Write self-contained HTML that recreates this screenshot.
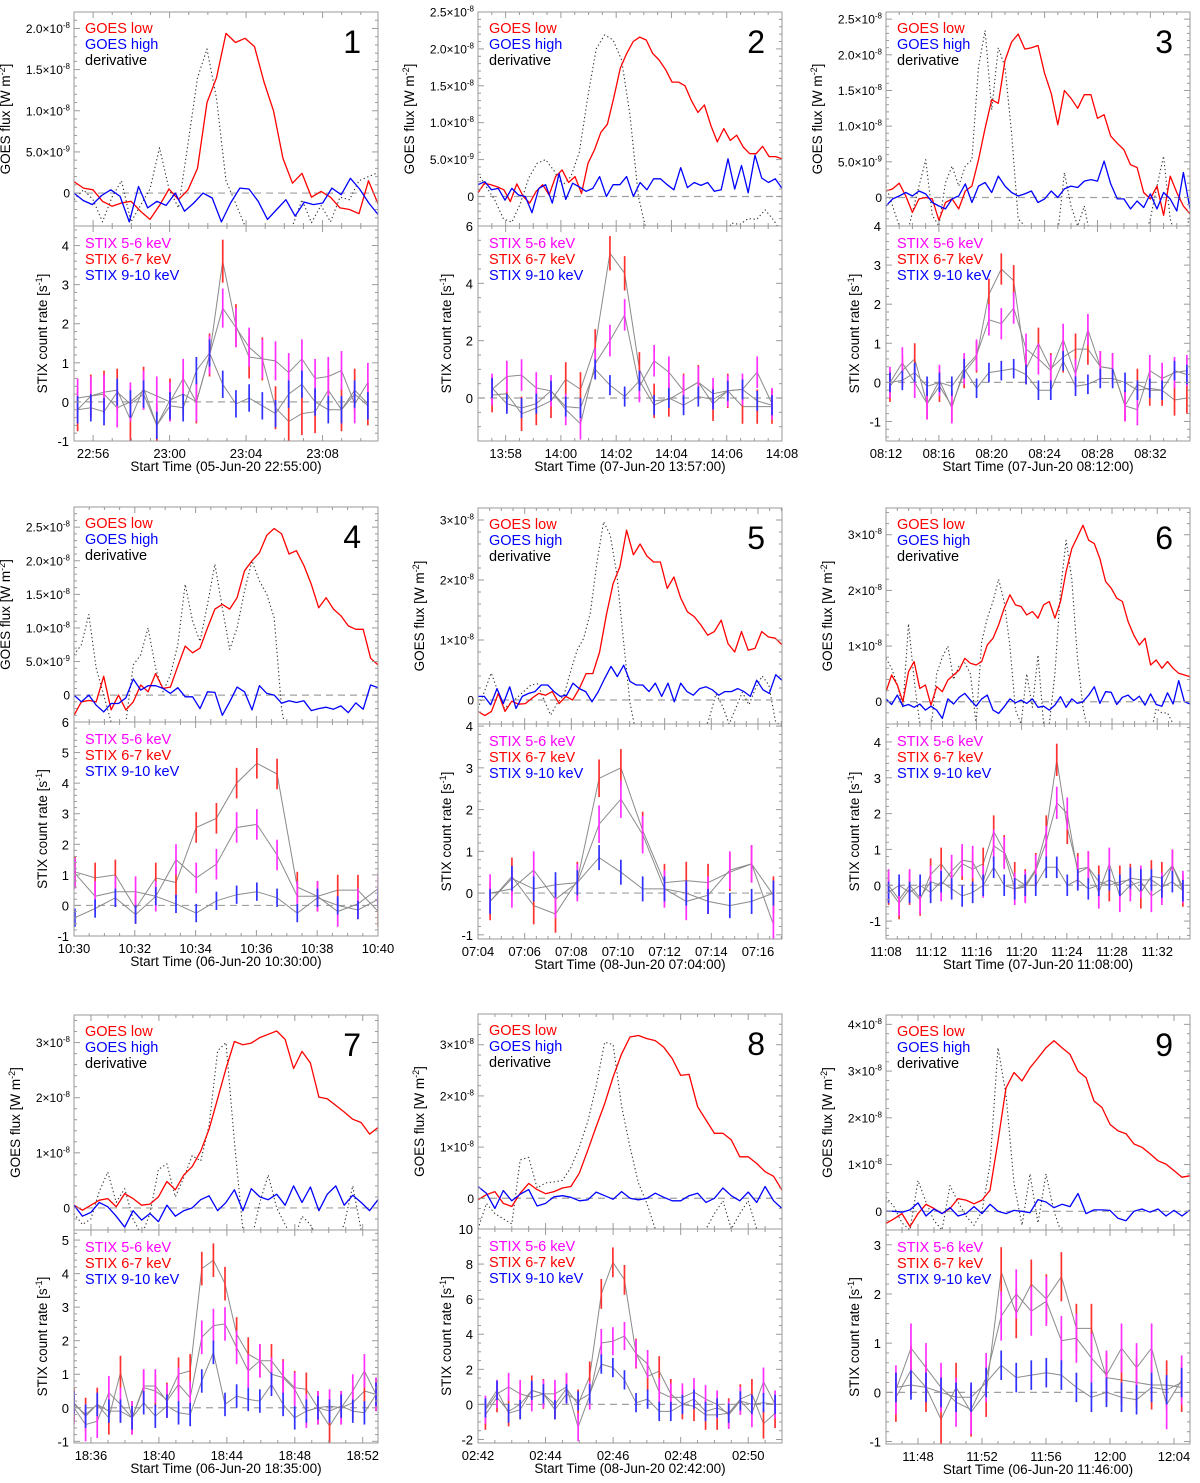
<!DOCTYPE html>
<html><head><meta charset="utf-8"><title>GOES and STIX flare light curves</title>
<style>
html,body{margin:0;padding:0;background:#fff;}
svg{display:block;font-family:"Liberation Sans",Arial,sans-serif;}
</style></head>
<body>
<svg id="fig" xmlns="http://www.w3.org/2000/svg" width="1200" height="1483" viewBox="0 0 1200 1483"></svg>
<script>
// ---- data (GOES in units of 1e-9 W m^-2, sampled uniformly across each panel's time span; STIX in counts/s) ----
const p1Low=[1.4,0.6,0.4,-1.0,-1.6,-1.2,-1.0,-2.2,-3.2,-1.5,0.5,-0.8,0.4,3.0,11,14,19.4,18.3,18.8,17.8,13.5,10,4.2,1.2,2.4,-0.5,0.2,-0.5,-1.8,-2.0,-2.5,1.5,-1.3];
const p1High=[0,-0.9,-1.4,-0.3,0.4,-0.4,-3.5,0.8,-1.8,-1.0,-1.5,0,-2.2,-1.2,0,-0.6,-3.5,-1.2,0.6,0.5,-1.0,-3.2,-2.0,-0.8,-2.8,-1.1,-1.4,-1.2,0.6,-0.2,1.8,0.5,-1.2,-2.6];
const p1Deriv=[-0.8,0.4,-0.8,-3.5,-0.5,1.5,-3.5,-1.5,0.5,5.5,0.5,-1.8,6,14,17.5,11.5,1.5,-1.2,-4,-7,-8,-8,-8,-4,-0.8,-3.6,-1.5,-3.5,-0.5,-0.8,1.5,2.0,2.5];
const p1S56=[0.1,0.15,0.2,-0.15,0.0,0.3,0.15,0.0,0.6,0.0,1.2,2.4,1.9,1.4,1.1,1.05,0.75,1.1,0.6,0.65,0.8,-0.05,0.5];
const p1S67=[-0.2,0.15,0.25,0.3,-0.45,0.35,-0.6,0.05,0.2,0.0,1.2,3.6,1.95,1.15,1.1,-0.15,-0.5,-0.3,-0.25,0.3,-0.2,0.3,-0.05];
const p1S910=[-0.2,-0.15,-0.25,0.25,-0.05,0.2,-0.6,-0.1,-0.15,0.8,1.25,0.45,-0.05,0.1,-0.1,-0.3,0.2,0.45,0.0,-0.2,-0.2,0.2,-0.1];
const p1StixTime=[0.19,0.69]; const p1Err=[0.5,0.55,0.35];

const p2Low=[0.5,1.8,1.6,1.3,0.9,-0.7,1.7,0,-0.9,0.7,1.6,0.2,2.7,3.6,1.9,2.7,0.4,4.5,6.3,8.7,9.8,13.4,17.4,19.4,21,21.6,21.2,19.4,18.5,17.2,15.5,15.5,15,13,11.4,12.4,9.6,7.4,9.2,7.6,8.3,6.7,5.8,5.8,6.8,5.4,5.4,5.1];
const p2High=[1.6,2,0.9,1.1,-0.5,1.1,0.2,0,-2.2,1.1,1.6,-0.9,3.1,-0.4,1.8,1.3,0.7,1.1,2.7,0,1.6,1.6,2.7,0,1.9,0.9,2.4,2.4,1.6,0.9,3.9,1.2,1.9,1.5,1.9,0.7,0.9,5.1,1,4.2,0.5,5.6,2.5,1.9,2.4,1.1];
const p2Deriv=[3.1,1.3,-0.5,-3,-3.5,-1,2.5,4.5,5,3.5,1.5,2.7,6,13.5,20,21.9,21.2,18.5,11,0,-5,-7,-7,-7,-7,-7,-7,-7,-7,-7,-3.6,-3.8,-3.0,-3.1,-1.8,-3.2,-5];
const p2S56=[0.3,0.75,0.8,0.35,0.25,-0.4,-0.9,1.2,2.0,2.9,0.4,1.3,0.9,0.25,0.55,0.15,0.25,0.3,0.9,-0.2];
const p2S67=[0.1,0.15,-0.55,-0.35,-0.1,0.65,0.3,1.8,5.05,4.35,1.0,-0.1,-0.05,0.25,0.55,-0.2,0.25,-0.3,-0.3,-0.3];
const p2S910=[0.35,-0.2,-0.35,-0.2,0.25,-0.3,-0.35,1.0,0.45,0.05,0.6,-0.25,0.0,-0.25,0.05,-0.05,0.25,0.3,-0.1,-0.25];
const p2StixTime=[0.51,0.533]; const p2Err=[0.55,0.6,0.35];

const p3Low=[0.9,1.2,2,0.2,-2.1,-0.2,0,-0.2,-3.2,-0.7,-0.2,-1.6,0.9,1.6,5.3,9.7,13.7,13.2,19.2,21.8,22.9,20.8,21,21.3,17.4,14.6,10.2,15,13.9,12.5,14.4,14.4,11.1,11.6,8.6,7.6,6.7,4.6,4.2,0.7,-0.2,1.6,-2.5,3,0.7,-1.2,-2.3];
const p3High=[-1.2,-0.2,0.2,0.7,0.2,0.9,0.5,-0.7,-1.2,-1.6,-0.2,0.2,1.9,-0.7,1.6,2.1,0.7,3,1.6,0.7,0.2,0.5,0.9,-0.7,-0.2,0.9,0,1.2,1.6,1.4,2.3,2.5,2.3,5.1,1.9,-0.2,-0.2,-1.6,-0.5,-1.4,0.5,-1.6,0.7,-0.2,-1.9,3.5,-1.6];
const p3Deriv=[1.6,-1.2,-4,-6,-2.1,1.6,5.3,-2.5,-4,2.1,4.4,1.6,4.4,5.3,18.3,23.4,12.3,21,18.3,9,-3,-4,-6,-6,-6,-6,-5,3.5,-1.2,-4,-1.2,-6,-6,-6,-6,-6,-6,-6,-6,-6,-3,1.6,5.8,-3,-6,-6,-2.5];
const p3S56=[0.0,0.5,0.0,-0.55,0.05,-0.65,0.35,0.7,1.6,1.5,1.9,0.85,0.6,0.3,1.1,0.2,1.35,0.4,0.35,-0.6,-0.7,0.3,0.1,0.25,0.3];
const p3S67=[-0.1,0.3,0.6,-0.55,-0.1,-0.6,0.25,0.65,2.25,2.9,2.6,0.35,1.0,0.35,0.65,0.85,0.85,0.4,0.35,-0.6,-0.05,-0.2,-0.2,-0.45,-0.4];
const p3S910=[0.0,0.05,0.25,-0.1,0.0,-0.1,0.35,-0.15,0.25,0.3,0.35,0.2,-0.2,-0.2,0.55,-0.1,-0.05,0.1,0.1,0.0,-0.2,-0.15,-0.2,0.3,0.2];
const p3StixTime=[0.3,0.936]; const p3Err=[0.4,0.4,0.25];

const p4Low=[-3,-1,-0.8,-1,2.8,-2.2,0,-2.2,-1,1.5,0.5,3.2,1,1.2,4.3,7.3,6.3,7,10,12.8,13.5,12.8,14.5,18.5,20,21.2,23.8,24.8,24,21,21.5,19.3,16.5,13,14.5,12.8,11.8,10.3,9.8,9.8,5.5,4.5];
const p4High=[0,-1,0,-1.5,-2.5,-1.25,-1.25,-0.4,2.4,0.75,1.4,1.4,1,0.25,1.1,-0.25,-0.25,-2,0.5,0.4,-3,-1,1.2,0.5,-2.2,1.4,0.25,0,-1.2,-0.85,-1.1,-0.85,-2.3,-2,-1.8,-2.1,-1.6,-2.6,-1.15,-2.1,1.5,1.1];
const p4Deriv=[6,7.5,12,4,0,-4,-6,-4,4.5,6,10,4,0.5,3,7.5,16.5,11,8,13.5,19.5,13,6.8,10,15.5,20,17,15,11.5,-2,-8,-8,-8,-8,-8,-8,-8,-8,-8,-8,-8,-8,-8];
const p4S56=[1.05,0.3,0.45,0.45,0.3,1.5,0.9,1.35,2.55,2.65,1.65,0.3,0.3,-0.2,0.05,0.55];
const p4S67=[1.1,0.9,1.0,-0.1,0.9,0.75,2.55,2.85,4.0,4.65,4.3,0.6,0.3,0.5,0.5,-0.2];
const p4S910=[-0.4,-0.1,0.25,-0.3,0.3,0.05,-0.25,0.15,0.35,0.45,0.25,-0.25,0.25,0.0,-0.15,0.2];
const p4StixTime=[0.03,0.665]; const p4Err=[0.5,0.5,0.3];

const p5Low=[-1.9,-2.6,-1.9,1.1,-1.9,-0.2,-0.7,-0.6,0.3,1.1,0.8,1.4,-0.6,0.6,0,1.9,4.4,4.4,8,14.2,19.4,22.2,28.3,24.2,26,24,23,23,18.6,20.5,17,14.7,13.9,12.5,10.8,11.4,13.3,9.4,8,11.4,8.3,8.6,11.4,10.5,10.3,9.2];
const p5High=[0.6,0.6,-0.8,1.9,-0.6,2.2,-1.4,0.6,1.1,1.4,2.5,2.5,1.4,0.6,0.8,2.8,1.9,1.4,-0.3,1.4,3.6,5.6,3.9,5.8,3.1,2.5,2.5,1.4,2.8,0.6,2.8,-0.3,2.8,1.4,0.8,1.9,2.2,1.7,0.8,1.4,1.4,1.9,1.4,0.6,3.3,1.7,1.1,4.2,3.3];
const p5Deriv=[-1.4,1.5,4.5,1.5,-1.4,-0.5,0.5,1.5,2.5,2.7,0,-2.5,-0.5,0.8,4.7,8.3,10.3,14.5,23,29.7,27.5,21,10,-0.5,-6,-6,-6,-6,-6,-6,-6,-6,-6,-6,-6,-3,1,-1,-4,-1.4,1.3,-0.8,2,4,2.5,-3.5,-4.5];
const p5S56=[0.0,0.1,0.55,-0.15,0.25,1.65,2.25,1.4,0.1,-0.2,-0.05,0.55,0.7,-0.75];
const p5S67=[-0.2,0.4,-0.3,-0.5,0.3,2.75,3.0,1.5,0.25,0.3,0.25,0.5,0.7,-0.05];
const p5S910=[-0.2,0.35,0.1,0.2,0.25,0.85,0.5,0.1,0.1,0.0,-0.2,-0.3,-0.2,0.0];
const p5StixTime=[0.52,0.934]; const p5Err=[0.45,0.45,0.3];

const p6Low=[1.8,4.8,3.0,0,5.4,7.2,2.4,3.0,-0.6,2.7,1.8,3.9,4.8,5.7,7.8,6.9,6.6,7.2,10.2,11.4,13.8,16.8,19.2,17.4,17.1,15.6,16.2,15,17.4,18,15,18,23.4,27.5,29.6,31.7,29,28.4,25.7,21.6,20.4,18.6,18,14.4,12,10.2,11.4,6.6,7.5,6,7.2,6,5.1,4.8,4.5];
const p6High=[0.5,-0.5,1.2,-0.8,-0.5,-1,-0.4,-1.5,-0.8,-1.5,-3,0.5,-0.4,0.8,1.5,0.3,-0.8,0.5,1.2,-1.5,-2.1,-0.9,0.5,-0.2,0.3,-0.3,0.5,-1.0,-0.8,-1.5,-0.6,0.9,-1,0.5,-0.3,0,1.2,2.7,-0.3,1.8,1.7,-0.5,0.8,1.2,0.2,1.0,-0.6,1.4,-0.5,-0.8,1.6,-0.4,3.8,0,-0.4];
const p6Deriv=[7.8,6,3,-1,14,4,-4,-6,-5,5,8,10,4,6.5,7,5,-4,10.8,15,18,22,18,10,-1.5,-4,5,-1,8.4,-4,-4,5,20,29,22,8,-1,-6,-6,-6,-6,-6,-6,-6,-6,-6,-6,-6,-6,-1.2,-2,-2,-4,-4,-5,-5];
const p6S56=[0.0,-0.4,0.0,-0.35,0.1,0.0,0.4,0.7,0.65,0.1,1.1,0.9,-0.1,-0.05,0.4,1.2,2.3,2.0,0.35,0.5,-0.2,0.6,-0.3,0.0,0.1,-0.3,-0.1,0.55,-0.05];
const p6S67=[-0.1,-0.5,-0.1,-0.4,0.3,0.6,0.2,0.6,0.45,0.6,1.5,0.95,0.2,0.0,0.45,1.5,3.5,1.6,0.45,0.5,0.1,0.0,0.1,0.15,-0.2,0.25,0.2,0.55,-0.15];
const p6S910=[-0.2,0.0,-0.2,0.0,-0.2,0.1,-0.1,-0.3,-0.2,0.0,0.5,0.0,-0.1,0.0,0.0,0.5,0.5,0.0,0.15,-0.1,0.0,0.15,0.0,0.2,0.15,0.15,-0.05,0.1,-0.15];
const p6StixTime=[0.23,0.93]; const p6Err=[0.45,0.45,0.3];

const p7Low=[0.5,-0.4,0.5,1.4,1.7,0.2,2.6,1.7,0.5,0.7,2,4.8,3.3,6,7.5,10.3,14.3,19.8,25.3,30.2,29.6,29.9,30.9,31.5,32.1,30.6,25.3,28.4,26.3,20.1,19.8,18.6,17.4,16.1,15.5,13.4,14.6];
const p7High=[0.5,-1.5,-0.8,1.0,0.2,-1.5,-3.5,-0.5,-2.2,-1.0,-2.5,0.5,-1.5,-0.5,0,1.5,2.2,-0.5,1.0,3.3,-0.5,3.5,2.0,1.5,2.5,0.5,4.0,1.0,3.8,-0.5,2.5,4.0,0.5,2.3,1.0,-0.5,1.5];
const p7Deriv=[-1,-3,-2,3,6.5,1,3.5,-2,-5,-1,7,8,2,5.5,9.5,8.5,15,28.5,30,12,-4,-6,1,6,0,-3,-6,-1.5,-3,-6,-6,-6,-3,4,-4,-6,-6];
const p7S56=[0.0,-0.5,-0.4,0.45,0.1,-0.3,0.65,0.65,0.2,0.7,0.3,2.1,2.45,2.5,1.8,1.1,1.4,1.0,0.9,0.55,-0.1,0.0,0.05,0.0,0.5,1.1,0.4];
const p7S67=[0.1,-0.2,0.1,-0.3,1.05,-0.3,0.6,0.5,0.25,1.0,1.1,4.15,4.4,3.7,2.2,1.6,1.4,1.4,0.95,0.6,0.55,0.0,-0.55,0.0,0.15,0.5,0.4];
const p7S910=[0.15,-0.25,0.1,-0.1,-0.1,-0.3,0.15,-0.25,0.05,-0.15,-0.2,0.8,1.65,0.1,0.35,0.25,0.2,0.7,0.1,-0.3,-0.1,0.0,-0.1,0.05,-0.1,-0.15,0.4];
const p7StixTime=[0.0,0.684]; const p7Err=[0.5,0.5,0.35];

const p8Low=[-0.3,0.7,1.3,-1,-1.6,1,2.9,1.7,0.9,1.3,2,2.3,4.9,9.4,14,18.5,23.7,28.2,31.5,31.8,31.2,30.8,29.5,27.3,24,24.2,17.9,15.3,12.7,12.7,11.4,8.1,8.1,6.8,5.2,4.3,1.6];
const p8High=[2.3,1.0,-2.0,1.5,-0.5,0.8,1.7,-1.5,-1.0,0.3,0.5,0.2,-0.5,-0.3,1.2,0.5,-0.2,1.3,0.0,-0.3,0.0,1.0,0.2,-0.5,-0.5,0.5,1.0,-0.8,0.0,2.0,0.5,-0.5,1.2,-0.8,2.3,-0.5,-2.0];
const p8Deriv=[-6,-1,-3,-4,-5,7.5,8,2,3,3.2,3.5,6,10,15,22,30.5,30,18,10,3,-1,-6,-6,-6,-6,-6,-6,-6,-3,-0.5,-6,-3,-0.5,-6,-6,-6,-6];
const p8S56=[-0.3,0.6,1.0,0.6,0.4,0.6,0.6,1.0,-1.3,0.5,3.5,3.6,3.9,2.9,2.3,0.7,0.4,0.4,0.7,0.3,0.0,-0.6,0.2,-0.5,1.3,0.0];
const p8S67=[-0.6,0.4,-0.4,0.0,0.8,0.6,0.0,0.9,0.0,1.6,6.3,8.1,7.1,2.9,1.6,1.9,0.6,0.0,-0.1,-0.6,-0.6,-0.5,0.3,0.6,-1.1,-0.5];
const p8S910=[-0.2,0.8,-0.5,-0.3,0.8,0.6,-0.3,0.6,0.2,0.6,2.3,2.1,1.4,0.1,0.3,-0.4,-0.4,0.0,0.3,-0.4,-0.2,-0.5,0.2,0.0,0.1,0.0];
const p8StixTime=[0.22,0.343]; const p8Err=[0.8,0.85,0.55];

const p9Low=[-2.6,-1.6,-0.5,-3.3,-0.5,1.5,0.6,-0.5,0.6,2.7,2.4,1.6,2.4,4.5,15,26.4,29.7,27.9,30.7,32.8,35,36.5,35,33.6,30,28.6,23.6,22.2,18.6,17.2,16.6,14.4,13.7,12.3,10.8,10.1,8.7,7.3,7.6];
const p9High=[0,0,-0.2,0.3,1.8,-1.0,0.5,-0.5,0.8,-1,-0.5,1.0,-0.5,1.5,0,-0.5,0.2,0,-0.3,2.5,2.0,0.8,1.5,1.0,3.8,-0.5,0.3,0.3,0.2,-1.5,-2.0,0,0.5,-0.2,0.5,-1.0,0.2,-1.0,0.3];
const p9Deriv=[3,1,-2.5,-4,6.6,2,-2,-4,5.5,2,-1,-3,0,10,35,25,6,-3,8,-2.5,8,0,-5,-6,-6,-6,-6,-6,-6,-6,-4,-6,-6,-6,-6,-6,-6,-6,-6];
const p9S56=[0.05,0.9,0.5,0.1,-0.2,-0.35,0.3,1.55,2.0,1.65,1.85,1.05,1.1,0.7,0.35,0.9,0.5,0.9,-0.25,0.25];
const p9S67=[-0.1,0.45,0.1,-0.55,0.1,-0.4,0.0,2.45,1.6,2.2,1.9,2.35,1.3,1.3,0.3,0.25,0.2,0.15,0.15,0.1];
const p9S910=[0.1,0.15,0.1,0.0,-0.1,-0.1,0.2,0.55,0.3,0.35,0.4,0.35,0.1,-0.1,0.0,-0.1,-0.15,0.1,0.05,0.2];
const p9StixTime=[0.62,0.94]; const p9Err=[0.5,0.5,0.3];

// tick values / labels
const goesTicksFine=[0,5,10,15,20,25];
const goesLabelsFine=[["0",""],["5.0\u00d710","-9"],["1.0\u00d710","-8"],["1.5\u00d710","-8"],["2.0\u00d710","-8"],["2.5\u00d710","-8"]];
const goesTicksCoarse=[0,10,20,30,40];
const goesLabelsCoarse=[["0",""],["1\u00d710","-8"],["2\u00d710","-8"],["3\u00d710","-8"],["4\u00d710","-8"]];
const p1XTicks=[1,5,9,13]; const p1XLabels=["22:56","23:00","23:04","23:08"];
const p2XTicks=[1,3,5,7,9,11]; const p2XLabels=["13:58","14:00","14:02","14:04","14:06","14:08"];
const p3XTicks=[0,4,8,12,16,20]; const p3XLabels=["08:12","08:16","08:20","08:24","08:28","08:32"];
const p4XTicks=[0,2,4,6,8,10]; const p4XLabels=["10:30","10:32","10:34","10:36","10:38","10:40"];
const p5XTicks=[0,2,4,6,8,10,12]; const p5XLabels=["07:04","07:06","07:08","07:10","07:12","07:14","07:16"];
const p6XTicks=[0,4,8,12,16,20,24]; const p6XLabels=["11:08","11:12","11:16","11:20","11:24","11:28","11:32"];
const p7XTicks=[1,5,9,13,17]; const p7XLabels=["18:36","18:40","18:44","18:48","18:52"];
const p8XTicks=[0,2,4,6,8]; const p8XLabels=["02:42","02:44","02:46","02:48","02:50"];
const p9XTicks=[2,6,10,14,18]; const p9XLabels=["11:48","11:52","11:56","12:00","12:04"];

// ---- layout (geometry & axis ranges) ----
const panels=[
 {n:1,L:74,R:378,T:12,M:226,B:441,tmax:15.9,g:[-4,22],s:[-1,4.5],fine:true,sStep:1,low:p1Low,high:p1High,der:p1Deriv,a:p1S56,b:p1S67,c:p1S910,st:p1StixTime,err:p1Err,xt:p1XTicks,xl:p1XLabels,xm:1,title:"Start Time (05-Jun-20 22:55:00)"},
 {n:2,L:478,R:782,T:12,M:226,B:441,tmax:11,g:[-4,25],s:[-1.5,6],fine:true,sStep:2,low:p2Low,high:p2High,der:p2Deriv,a:p2S56,b:p2S67,c:p2S910,st:p2StixTime,err:p2Err,xt:p2XTicks,xl:p2XLabels,xm:0.5,title:"Start Time (07-Jun-20 13:57:00)"},
 {n:3,L:886,R:1190,T:12,M:226,B:441,tmax:23,g:[-4,26],s:[-1.5,4],fine:true,sStep:1,low:p3Low,high:p3High,der:p3Deriv,a:p3S56,b:p3S67,c:p3S910,st:p3StixTime,err:p3Err,xt:p3XTicks,xl:p3XLabels,xm:1,title:"Start Time (07-Jun-20 08:12:00)"},
 {n:4,L:74,R:378,T:507,M:722,B:936,tmax:10,g:[-4,28],s:[-1,6],fine:true,sStep:1,low:p4Low,high:p4High,der:p4Deriv,a:p4S56,b:p4S67,c:p4S910,st:p4StixTime,err:p4Err,xt:p4XTicks,xl:p4XLabels,xm:0.5,title:"Start Time (06-Jun-20 10:30:00)"},
 {n:5,L:478,R:782,T:508,M:724,B:939,tmax:13.03,g:[-4,32],s:[-1.1,4.05],fine:false,sStep:1,low:p5Low,high:p5High,der:p5Deriv,a:p5S56,b:p5S67,c:p5S910,st:p5StixTime,err:p5Err,xt:p5XTicks,xl:p5XLabels,xm:0.5,title:"Start Time (08-Jun-20 07:04:00)"},
 {n:6,L:886,R:1190,T:508,M:724,B:939,tmax:26.9,g:[-4,34.8],s:[-1.5,4.5],fine:false,sStep:1,low:p6Low,high:p6High,der:p6Deriv,a:p6S56,b:p6S67,c:p6S910,st:p6StixTime,err:p6Err,xt:p6XTicks,xl:p6XLabels,xm:1,title:"Start Time (07-Jun-20 11:08:00)"},
 {n:7,L:74,R:378,T:1015,M:1230,B:1443,tmax:17.9,g:[-4,35],s:[-1.05,5.3],fine:false,sStep:1,low:p7Low,high:p7High,der:p7Deriv,a:p7S56,b:p7S67,c:p7S910,st:p7StixTime,err:p7Err,xt:p7XTicks,xl:p7XLabels,xm:1,title:"Start Time (06-Jun-20 18:35:00)"},
 {n:8,L:478,R:782,T:1014,M:1229,B:1443,tmax:9.0,g:[-6,36],s:[-2.2,10],fine:false,sStep:2,low:p8Low,high:p8High,der:p8Deriv,a:p8S56,b:p8S67,c:p8S910,st:p8StixTime,err:p8Err,xt:p8XTicks,xl:p8XLabels,xm:0.5,title:"Start Time (08-Jun-20 02:42:00)"},
 {n:9,L:886,R:1190,T:1015,M:1230,B:1444,tmax:19.0,g:[-4,42],s:[-1.05,3.3],fine:false,sStep:1,low:p9Low,high:p9High,der:p9Deriv,a:p9S56,b:p9S67,c:p9S910,st:p9StixTime,err:p9Err,xt:p9XTicks,xl:p9XLabels,xm:1,title:"Start Time (06-Jun-20 11:46:00)"}
];

const NS="http://www.w3.org/2000/svg";
const svg=document.getElementById("fig");
function mk(tag,attrs,parent){const e=document.createElementNS(NS,tag);for(const k in attrs)e.setAttribute(k,attrs[k]);parent.appendChild(e);return e;}
const defs=mk("defs",{},svg);

panels.forEach(function(P){
  const g=mk("g",{},svg);
  
  
  const xs=t=>P.L+t/P.tmax*(P.R-P.L);
  const yg=v=>P.M-(v-P.g[0])/(P.g[1]-P.g[0])*(P.M-P.T);
  const ys=v=>P.B-(v-P.s[0])/(P.s[1]-P.s[0])*(P.B-P.M);
  const c1=mk("clipPath",{id:"ct"+P.n},defs); mk("rect",{x:P.L,y:P.T,width:P.R-P.L,height:P.M-P.T},c1);
  const c2=mk("clipPath",{id:"cb"+P.n},defs); mk("rect",{x:P.L,y:P.M,width:P.R-P.L,height:P.B-P.M},c2);

  // ===== top GOES subplot =====
  const top=mk("g",{"clip-path":"url(#ct"+P.n+")"},g);
  
  
  const z1=mk("line",{x1:P.L,x2:P.R,y1:yg(0),y2:yg(0),stroke:"#a0a0a0","stroke-width":1.2,"stroke-dasharray":"7 5"},top);
  
  
  function series(arr,color,w,dash,name){
    const n=arr.length;
    const pts=arr.map((v,i)=>xs(i*P.tmax/(n-1)).toFixed(1)+","+yg(v).toFixed(1)).join(" ");
    const pl=mk("polyline",{points:pts,fill:"none",stroke:color,"stroke-width":w,"stroke-linejoin":"round"},top);
    if(dash)pl.setAttribute("stroke-dasharray",dash);
    
    
  }
  series(P.der,"#333",1.1,"1.3 2.6","goes-derivative-line");
  series(P.low,"#ff0000",1.3,null,"goes-low-line");
  series(P.high,"#0000ff",1.3,null,"goes-high-line");

  // ===== bottom STIX subplot =====
  const bot=mk("g",{"clip-path":"url(#cb"+P.n+")"},g);
  
  
  const z2=mk("line",{x1:P.L,x2:P.R,y1:ys(0),y2:ys(0),stroke:"#a0a0a0","stroke-width":1.2,"stroke-dasharray":"7 5"},bot);
  
  
  const sets=[[P.b,"#ff3030",P.err[1],"stix-6-7kev"],[P.a,"#ff30ff",P.err[0],"stix-5-6kev"],[P.c,"#3030ff",P.err[2],"stix-9-10kev"]];
  const tx=i=>xs(P.st[0]+i*P.st[1]);
  sets.forEach(function(S){
    const pts=S[0].map((v,i)=>tx(i).toFixed(1)+","+ys(v).toFixed(1)).join(" ");
    const pl=mk("polyline",{points:pts,fill:"none",stroke:"#8a8a8a","stroke-width":1},bot);
    
    
  });
  sets.forEach(function(S){
    S[0].forEach(function(v,i){
      const b=mk("line",{x1:tx(i),x2:tx(i),y1:ys(v-S[2]),y2:ys(v+S[2]),stroke:S[1],"stroke-width":1.7},bot);
      
      
    });
  });

  // ===== frames & ticks =====
  const ax=mk("g",{stroke:"#9a9a9a","stroke-width":1,fill:"none"},g);
  
  
  mk("rect",{x:P.L,y:P.T,width:P.R-P.L,height:P.M-P.T},ax);
  mk("rect",{x:P.L,y:P.M,width:P.R-P.L,height:P.B-P.M},ax);
  function tk(x1,y1,x2,y2){mk("line",{x1:x1,y1:y1,x2:x2,y2:y2},ax);}
  for(let t=0;t<=P.tmax+1e-6;t+=P.xm){
    const x=xs(t);const major=P.xt.some(v=>Math.abs(v-t)<1e-6);const L=major?6:3;
    [[P.T,1],[P.M,-1],[P.M,1],[P.B,-1]].forEach(e=>tk(x,e[0],x,e[0]+e[1]*L));
  }
  const gT=P.fine?goesTicksFine:goesTicksCoarse; const gL=P.fine?goesLabelsFine:goesLabelsCoarse;
  const gMinor=P.fine?1:2;
  for(let v=Math.ceil(P.g[0]/gMinor)*gMinor;v<=P.g[1];v+=gMinor){
    const y=yg(v); if(y<P.T||y>P.M)continue;
    const major=gT.indexOf(v)>=0;const L=major?6:3;
    tk(P.L,y,P.L+L,y);tk(P.R,y,P.R-L,y);
  }
  gT.forEach(function(v,i){
    const y=yg(v); if(y<P.T-1||y>P.M)return;
    const t=mk("text",{x:P.L-4,y:y+4.5,"text-anchor":"end","font-size":12,fill:"#000"},g);
    
    
    const a=mk("tspan",{},t);a.textContent=gL[i][0];
    if(gL[i][1]){const s=mk("tspan",{dy:-5,"font-size":8},t);s.textContent=gL[i][1];}
  });
  const sMinor=P.sStep===2?0.5:0.2;
  for(let v=Math.ceil(P.s[0]/sMinor)*sMinor;v<=P.s[1]+1e-6;v+=sMinor){
    const y=ys(v); if(y<P.M-0.5||y>P.B+0.5)continue;
    const r=Math.round(v/P.sStep)*P.sStep;const major=Math.abs(r-v)<1e-6;const L=major?6:3;
    tk(P.L,y,P.L+L,y);tk(P.R,y,P.R-L,y);
  }
  for(let v=Math.ceil(P.s[0]/P.sStep)*P.sStep;v<=P.s[1]+1e-6;v+=P.sStep){
    const y=ys(v);
    const t=mk("text",{x:P.L-5,y:y+5,"text-anchor":"end","font-size":13,fill:"#000"},g);
    t.textContent=String(Math.round(v));
    
    
  }
  P.xt.forEach(function(v,i){
    const t=mk("text",{x:xs(v),y:P.B+17,"text-anchor":"middle","font-size":13,fill:"#000"},g);
    t.textContent=P.xl[i];
    
    
  });
  const ti=mk("text",{x:(P.L+P.R)/2,y:P.B+30,"text-anchor":"middle","font-size":13.5,fill:"#000"},g);
  ti.textContent=P.title;
  
  

  const gx=P.L-(P.fine?64:54), gy=(P.T+P.M)/2;
  const yt=mk("text",{x:gx,y:gy,"text-anchor":"middle","font-size":13.5,fill:"#000",transform:"rotate(-90 "+gx+" "+gy+")"},g);
  
  
  const y1=mk("tspan",{},yt);y1.textContent="GOES flux [W m";
  const y2=mk("tspan",{dy:-5,"font-size":9},yt);y2.textContent="-2";
  const y3=mk("tspan",{dy:5},yt);y3.textContent="]";
  const sx=P.L-27, sy=(P.M+P.B)/2;
  const st=mk("text",{x:sx,y:sy,"text-anchor":"middle","font-size":13.5,fill:"#000",transform:"rotate(-90 "+sx+" "+sy+")"},g);
  
  
  const s1=mk("tspan",{},st);s1.textContent="STIX count rate [s";
  const s2=mk("tspan",{dy:-5,"font-size":9},st);s2.textContent="-1";
  const s3=mk("tspan",{dy:5},st);s3.textContent="]";

  const lg=[["GOES low","#ff0000"],["GOES high","#0000ff"],["derivative","#000"]];
  lg.forEach(function(l,i){
    const t=mk("text",{x:P.L+11,y:P.T+21+i*16,"font-size":14.5,fill:l[1]},g);
    t.textContent=l[0];
    
    
  });
  const ls=[["STIX 5-6 keV","#ff00ff"],["STIX 6-7 keV","#ff0000"],["STIX 9-10 keV","#0000ff"]];
  ls.forEach(function(l,i){
    const t=mk("text",{x:P.L+11,y:P.M+22+i*16,"font-size":14.5,fill:l[1]},g);
    t.textContent=l[0];
    
    
  });
  const num=mk("text",{x:P.R-17,y:P.T+41,"text-anchor":"end","font-size":32,fill:"#000"},g);
  num.textContent=String(P.n);
  
  
});
</script>
</body></html>
